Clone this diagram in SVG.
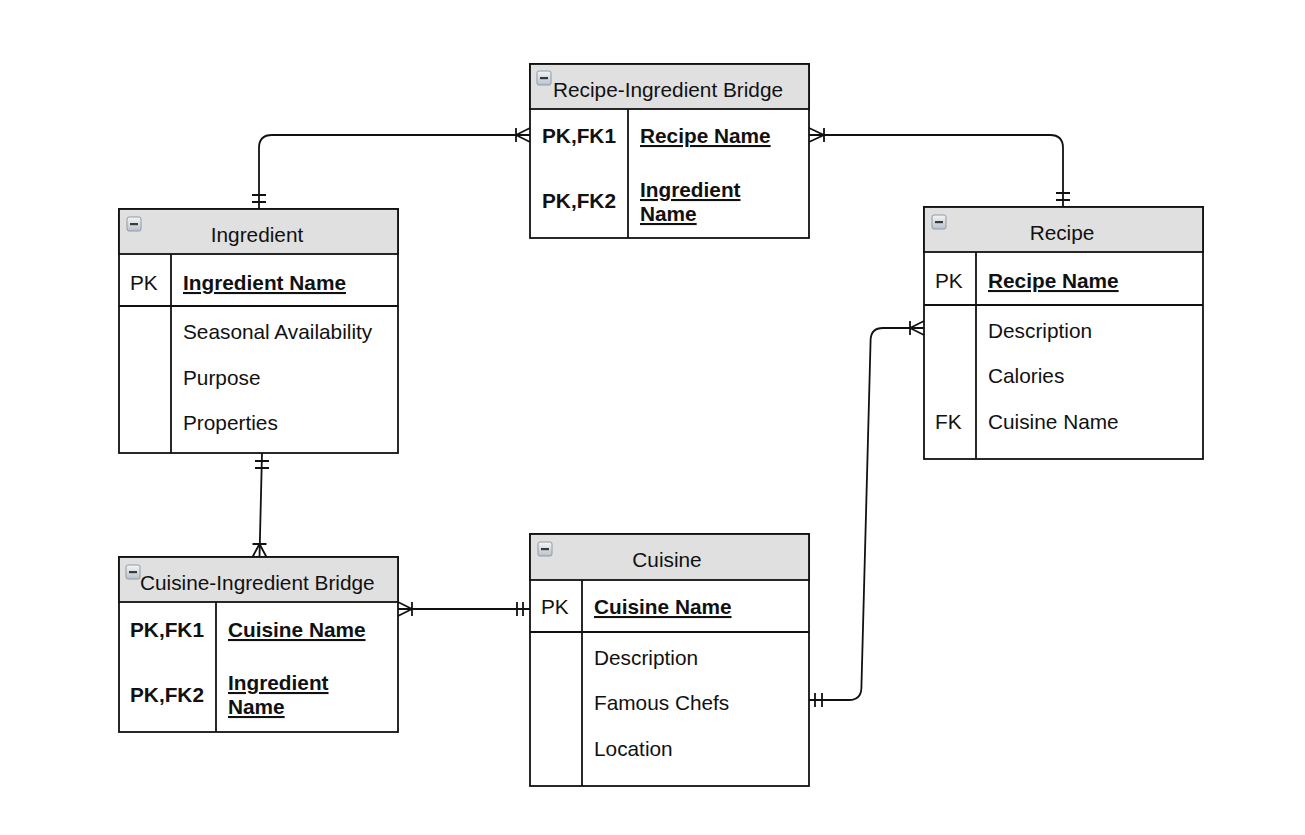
<svg xmlns="http://www.w3.org/2000/svg" width="1305" height="835" viewBox="0 0 1305 835">
<defs>
<linearGradient id="ig" x1="0" y1="0" x2="0" y2="1">
<stop offset="0" stop-color="#f4f6f8"/>
<stop offset="1" stop-color="#b8c2cc"/>
</linearGradient>
<g id="icon">
<rect x="0" y="0" width="14" height="14" rx="2" fill="url(#ig)" stroke="#8f9ba6" stroke-width="1"/>
<rect x="3" y="6" width="8" height="2.2" fill="#3a3a3a"/>
</g>
</defs>
<style>
text{font-family:"Liberation Sans",Arial,sans-serif;font-size:20.8px;fill:#111}
.b{font-weight:bold;text-decoration:underline}
.k{font-weight:bold}
.c{text-anchor:middle}
.box{fill:#fff;stroke:#111;stroke-width:1.8}
.hd{fill:#e0e0e0;stroke:#111;stroke-width:1.8}
.ln{stroke:#111;stroke-width:1.8;fill:none}
.cn{stroke:#111;stroke-width:1.8;fill:none}
</style>
<rect width="1305" height="835" fill="#fff"/>

<g id="recipe-ingredient-bridge">
<rect class="box" x="530" y="64" width="279" height="174"/>
<rect class="hd" x="530" y="64" width="279" height="45"/>
<line class="ln" x1="628" y1="109" x2="628" y2="238"/>
<use href="#icon" x="537" y="71"/>
<text x="553" y="97">Recipe-Ingredient Bridge</text>
<text class="k" x="542" y="143">PK,FK1</text>
<text class="b" x="640" y="143">Recipe Name</text>
<text class="k" x="542" y="208">PK,FK2</text>
<text class="b" x="640" y="197">Ingredient</text>
<text class="b" x="640" y="221">Name</text>
</g>

<g id="ingredient">
<rect class="box" x="119" y="209" width="279" height="244"/>
<rect class="hd" x="119" y="209" width="279" height="45"/>
<line class="ln" x1="171" y1="254" x2="171" y2="453"/>
<line class="ln" x1="119" y1="306" x2="398" y2="306"/>
<use href="#icon" x="127" y="217"/>
<text class="c" x="257" y="242">Ingredient</text>
<text x="130" y="290">PK</text>
<text class="b" x="183" y="290">Ingredient Name</text>
<text x="183" y="339">Seasonal Availability</text>
<text x="183" y="385">Purpose</text>
<text x="183" y="430">Properties</text>
</g>

<g id="recipe">
<rect class="box" x="924" y="207" width="279" height="252"/>
<rect class="hd" x="924" y="207" width="279" height="45"/>
<line class="ln" x1="976" y1="252" x2="976" y2="459"/>
<line class="ln" x1="924" y1="305" x2="1203" y2="305"/>
<use href="#icon" x="932" y="215"/>
<text class="c" x="1062" y="240">Recipe</text>
<text x="935" y="288">PK</text>
<text class="b" x="988" y="288">Recipe Name</text>
<text x="988" y="338">Description</text>
<text x="988" y="383">Calories</text>
<text x="935" y="429">FK</text>
<text x="988" y="429">Cuisine Name</text>
</g>

<g id="cuisine">
<rect class="box" x="530" y="534" width="279" height="252"/>
<rect class="hd" x="530" y="534" width="279" height="46"/>
<line class="ln" x1="582" y1="580" x2="582" y2="786"/>
<line class="ln" x1="530" y1="632" x2="809" y2="632"/>
<use href="#icon" x="538" y="542"/>
<text class="c" x="667" y="567">Cuisine</text>
<text x="541" y="614">PK</text>
<text class="b" x="594" y="614">Cuisine Name</text>
<text x="594" y="665">Description</text>
<text x="594" y="710">Famous Chefs</text>
<text x="594" y="756">Location</text>
</g>

<g id="cuisine-ingredient-bridge">
<rect class="box" x="119" y="557" width="279" height="175"/>
<rect class="hd" x="119" y="557" width="279" height="45"/>
<line class="ln" x1="216" y1="602" x2="216" y2="732"/>
<use href="#icon" x="126" y="565"/>
<text x="140" y="590">Cuisine-Ingredient Bridge</text>
<text class="k" x="130" y="637">PK,FK1</text>
<text class="b" x="228" y="637">Cuisine Name</text>
<text class="k" x="130" y="702">PK,FK2</text>
<text class="b" x="228" y="690">Ingredient</text>
<text class="b" x="228" y="714">Name</text>
</g>

<g id="connectors">
<path class="cn" d="M259,209 L259,148 Q259,135 272,135 L530,135"/>
<path class="cn" d="M252,195 L266,195 M252,202 L266,202"/>
<path class="cn" d="M516,128 L516,142 M516,135 L530,128 M516,135 L530,142"/>
<path class="cn" d="M1063,207 L1063,148 Q1063,135 1050,135 L809,135"/>
<path class="cn" d="M1056,193 L1070,193 M1056,200 L1070,200"/>
<path class="cn" d="M824,128 L824,142 M824,135 L809,128 M824,135 L809,142"/>
<path class="cn" d="M262,453 L259.5,557"/>
<path class="cn" d="M255,461 L269,461 M255,468 L269,468"/>
<path class="cn" d="M252.5,544 L266.5,544 M259.5,544 L252.5,557 M259.5,544 L266.5,557"/>
<path class="cn" d="M398,609 L530,609"/>
<path class="cn" d="M412,602 L412,616 M412,609 L398,602 M412,609 L398,616"/>
<path class="cn" d="M517,602 L517,616 M523,602 L523,616"/>
<path class="cn" d="M809,700 L849,700 Q861,700 861.4,688 L870.6,340 Q871,328 883,328 L924,328"/>
<path class="cn" d="M815,693 L815,707 M822,693 L822,707"/>
<path class="cn" d="M910,321 L910,335 M910,328 L924,321 M910,328 L924,335"/>
</g>
</svg>
